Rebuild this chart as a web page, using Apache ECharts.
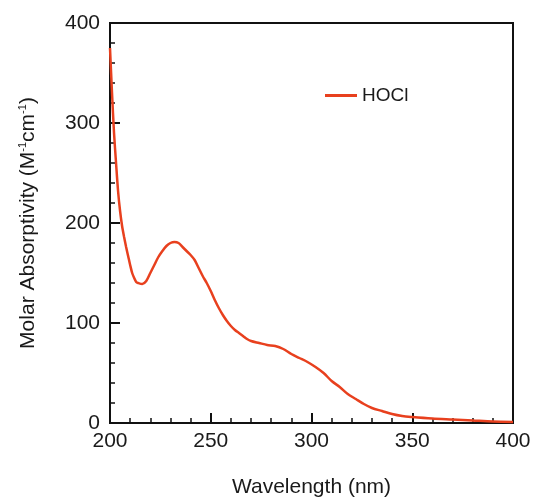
<!DOCTYPE html>
<html>
<head>
<meta charset="utf-8">
<script src="https://cdn.jsdelivr.net/npm/echarts@6/dist/echarts.min.js"></script>
<style>
  html, body { margin: 0; padding: 0; background: #fff; }
  #chart { width: 536px; height: 502px; }
</style>
</head>
<body>
<div id="chart"></div>
<script>
// wavelength (nm) and molar absorptivity
var wavelength = [200, 201, 202, 203, 204, 205, 206, 207, 208, 209, 210, 211, 212, 213, 214, 216, 218, 220, 222, 224,
  226, 228, 230, 232, 234, 236, 238, 240, 242, 244, 246, 248, 250, 252, 254, 256, 258, 260, 262, 264,
  266, 268, 270, 274, 278, 282, 286, 290, 294, 298, 302, 306, 310, 314, 318, 322, 326, 330, 335, 340,
  345, 350, 360, 370, 380, 390, 400];
var absorptivity = [375, 330, 290, 260, 232, 212, 197, 186, 176, 167, 158, 150, 145, 141, 140, 139, 142, 150, 158, 166,
  172, 177, 180, 181, 180, 176, 172, 168, 163, 155, 147, 140, 132, 123, 115, 108, 102, 97, 93, 90,
  87, 84, 82, 80, 78, 77, 74, 69, 65, 61, 56, 50, 42, 36, 29, 24, 19, 15, 12, 9,
  7, 6, 4.5, 3.5, 2.5, 1.5, 1];
var seriesName = 'HOCl';

var pts = [];
wavelength.map(function (w, i) {
    pts.push([w, absorptivity[i]]);
});

var chart = echarts.init(document.getElementById('chart'));
var fontFam = 'Liberation Sans, Arial, sans-serif';
var option = {
    animation: false,
    backgroundColor: '#fff',
    grid: {
        left: 110, right: 23, top: 23, bottom: 79,
        containLabel: false,
        outerBoundsMode: 'none',
        show: true,
        borderColor: '#111',
        borderWidth: 2
    },
    legend: {
        left: 320, top: 81,
        icon: 'rect',
        itemWidth: 32, itemHeight: 3,
        itemGap: 10,
        data: [seriesName],
        textStyle: { fontFamily: fontFam, fontSize: 19, color: '#1a1a1a' }
    },
    xAxis: {
        type: 'value',
        min: 200, max: 400, interval: 50,
        name: 'Wavelength (nm)',
        nameLocation: 'middle',
        nameGap: 54,
        nameTextStyle: { fontFamily: fontFam, fontSize: 21, color: '#1a1a1a' },
        axisLine: { show: true, lineStyle: { color: '#111', width: 2 } },
        axisTick: { show: true, inside: true, length: 10, lineStyle: { color: '#111', width: 2 } },
        minorTick: { show: true, splitNumber: 5, length: 5, lineStyle: { color: '#111', width: 1.5 } },
        splitLine: { show: false },
        axisLabel: { margin: 8, fontFamily: fontFam, fontSize: 21, color: '#1a1a1a' }
    },
    yAxis: {
        type: 'value',
        min: 0, max: 400, interval: 100,
        name: '{a|Molar Absorptivity (M}{s|-1}{a|cm}{s|-1}{a|)}',
        nameLocation: 'middle',
        nameGap: 71,
        nameTextStyle: {
            rich: {
                a: { fontFamily: fontFam, fontSize: 21, color: '#1a1a1a', verticalAlign: 'bottom' },
                s: { fontFamily: fontFam, fontSize: 11, color: '#1a1a1a', verticalAlign: 'bottom', padding: [0, 0, 11, 0] }
            }
        },
        axisLine: { show: true, lineStyle: { color: '#111', width: 2 } },
        axisTick: { show: true, inside: true, length: 10, lineStyle: { color: '#111', width: 2 } },
        minorTick: { show: true, splitNumber: 5, length: 5, lineStyle: { color: '#111', width: 1.5 } },
        splitLine: { show: false },
        axisLabel: { margin: 10, fontFamily: fontFam, fontSize: 21, color: '#1a1a1a' }
    },
    series: [
        {
            name: seriesName,
            type: 'line',
            data: pts,
            symbol: 'none',
            smooth: 0.3,
            lineStyle: { color: '#e8401e', width: 2.5 },
            itemStyle: { color: '#e8401e' }
        }
    ]
};
chart.setOption(option);
</script>
</body>
</html>
